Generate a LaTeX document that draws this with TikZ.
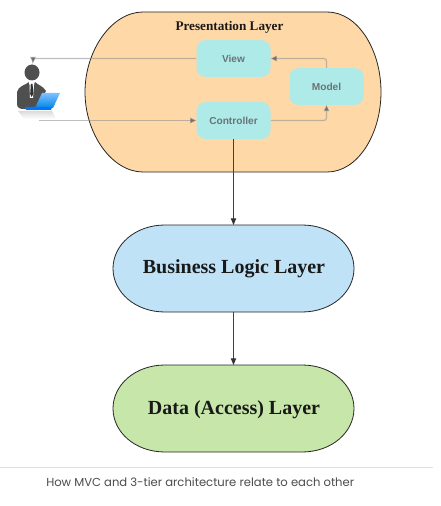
\documentclass[tikz,border=0pt]{standalone}
\usepackage{fontspec}
\setmainfont{Liberation Serif}
\setsansfont{Liberation Sans}
\newfontfamily\capfont{Poppins}
\usetikzlibrary{arrows.meta,calc}
\definecolor{peach}{HTML}{FFD8A8}
\definecolor{sky}{HTML}{C0E2F7}
\definecolor{leaf}{HTML}{C6E7A9}
\definecolor{aqua}{HTML}{AEEAE8}
\definecolor{inkgray}{HTML}{6A7478}
\definecolor{wire}{HTML}{8C8C8C}
\definecolor{suit}{HTML}{4F4F4F}
\tikzset{
  x=0.75pt,y=-0.75pt,
  inner/.style={fill=aqua,rounded corners=6.5pt,inner sep=0,minimum width=55.5pt,minimum height=27.5pt,font=\sffamily\bfseries\fontsize{7.6}{8}\selectfont,text=inkgray},
  outline/.style={draw=black!70!gray,line width=0.6pt},
  softwire/.style={draw=wire,draw opacity=0.55,line width=0.9pt,rounded corners=2pt},
  softtip/.style={-{Triangle[length=4.5pt,width=4pt,fill=inkgray,color=inkgray]}},
  hardwire/.style={draw=black!75,line width=0.7pt,-{Triangle[length=5pt,width=4pt,fill=black!80,color=black!80]}},
  layertext/.style={font=\bfseries\fontsize{#1}{#1}\selectfont,text=black!90},
}
\begin{document}
\begin{tikzpicture}
\useasboundingbox (0,0) rectangle (441,506);
\fill[white] (0,0) rectangle (441,506);
% layers
\path[fill=peach,outline] (143,12) -- (327,12) .. controls (358,12) and (381,50) .. (381,92)
  .. controls (381,134) and (358,172) .. (327,172) -- (143,172)
  .. controls (112,172) and (85,134) .. (85,92) .. controls (85,50) and (112,12) .. (143,12) -- cycle;
\path[fill=sky,outline] (165,225) -- (302,225) .. controls (332,225) and (354,245) .. (354,268.5)
  .. controls (354,292) and (332,312) .. (302,312) -- (165,312)
  .. controls (135,312) and (113,292) .. (113,268.5) .. controls (113,245) and (135,225) .. (165,225) -- cycle;
\path[fill=leaf,outline] (165,365) -- (302,365) .. controls (332,365) and (354,385) .. (354,408.5)
  .. controls (354,432) and (332,452) .. (302,452) -- (165,452)
  .. controls (135,452) and (113,432) .. (113,408.5) .. controls (113,385) and (135,365) .. (165,365) -- cycle;
\coordinate (biz) at (233.5,225);
\coordinate (dat) at (233.5,365);
\coordinate (bizb) at (233.5,312);
\node[layertext=9.9] (prestitle) at (229.5,27) {Presentation Layer};
\node[layertext=15] (biztitle) at (234,269) {Business Logic Layer};
\node[layertext=15] (dattitle) at (234,409.5) {Data (Access) Layer};
% inner boxes
\node[inner] (view) at (233.5,58.5) {View};
\node[inner] (ctrl) at (233.5,120.5) {Controller};
\node[inner] (model) at (326.5,86.5) {Model};
% person
\coordinate (usertop) at (33,63);
\coordinate (userbot) at (39,120.5);
\shade[top color=black!14,bottom color=white] (18,111) -- (52,111) -- (56,119) -- (24,119) -- cycle;
\fill[suit] (32,72.5) circle[x radius=7.5,y radius=8];
\fill[suit] (17,104) -- (17,92) .. controls (18,86) and (26,85) .. (29,82) -- (35,82)
   .. controls (38,85) and (43,86) .. (46,91) -- (37,107) -- (24,109) .. controls (20,109) and (17,108) .. (17,104) -- cycle;
\fill[white] (28.5,81) -- (35,81) -- (34,85) -- (33,98) -- (30,98) -- (29.5,85) -- cycle;
\fill[suit!60!black] (30.8,84) -- (32.6,84) -- (33.2,94) -- (31.7,97) -- (30.2,94) -- cycle;
\shade[top color=cyan!50!blue!50!white,bottom color=blue!40!cyan!90!black] (42,93) -- (60,93) -- (53,108) -- (35,108) -- cycle;
\fill[blue!55!cyan] (25,107) -- (52,107) -- (51,110) -- (26,110) -- cycle;
% connectors
\draw[softwire,softtip] (view.west) -| (usertop);
\draw[softwire,softtip] (userbot) -- (ctrl.west);
\draw[softwire,softtip] (ctrl.east) -| (model.south);
\draw[softwire,softtip] (model.north) |- (view.east);
\draw[hardwire] (ctrl.south) -- (biz);
\draw[hardwire] (bizb) -- (dat);
% caption
\draw[draw=black!12,line width=0.6pt] (0,467.5) -- (433,467.5);
\node[font=\capfont\fontsize{8.7}{10}\selectfont,text=black!70,anchor=west,inner sep=0] (cap) at (46,482) {How MVC and 3-tier architecture relate to each other};
\end{tikzpicture}
\end{document}
